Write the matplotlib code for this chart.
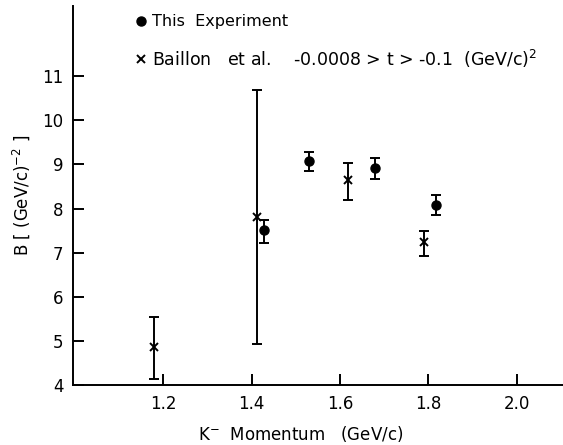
import matplotlib.pyplot as plt

plt.rcParams['font.family'] = 'DejaVu Sans'
plt.rcParams['mathtext.default'] = 'regular'

# this experiment (dots)
exp_p = [1.429, 1.530, 1.680, 1.816]
exp_b = [7.51, 9.08, 8.91, 8.09]
exp_lo = [7.23, 8.85, 8.68, 7.86]
exp_hi = [7.74, 9.29, 9.14, 8.30]

# Baillon et al. (crosses)
bai_p = [1.179, 1.412, 1.619, 1.790]
bai_b = [4.85, 7.82, 8.64, 7.24]
bai_lo = [4.14, 4.92, 8.20, 6.92]
bai_hi = [5.53, 10.69, 9.04, 7.50]

x_ticks = [1.2, 1.4, 1.6, 1.8, 2.0]
x_labels = ["1.2", "1.4", "1.6", "1.8", "2.0"]
y_ticks = [4, 5, 6, 7, 8, 9, 10, 11]

fig = plt.figure(figsize=(5.63, 4.45), dpi=100)
ax = fig.add_axes([0.13, 0.135, 0.87, 0.852])


def errs(val, lo, hi):
    return [[v - l for v, l in zip(val, lo)], [h - v for v, h in zip(val, hi)]]


ax.errorbar(exp_p, exp_b, yerr=errs(exp_b, exp_lo, exp_hi), fmt='o',
            color='black', ms=6.5, elinewidth=1.4, capsize=3.5, capthick=1.4)
ax.errorbar(bai_p, bai_b, yerr=errs(bai_b, bai_lo, bai_hi), fmt='x',
            color='black', ms=6, mew=1.4, elinewidth=1.4, capsize=3.5,
            capthick=1.4)

ax.set_xlim(0.997, 2.104)
ax.set_ylim(4, 12.6)
ax.set_xticks(x_ticks)
ax.set_xticklabels(x_labels)
ax.set_yticks(y_ticks)
ax.tick_params(direction='in', length=8, width=1.4, labelsize=12, pad=7)
ax.spines['top'].set_visible(False)
ax.spines['right'].set_visible(False)
for s in ('left', 'bottom'):
    ax.spines[s].set_linewidth(1.4)

ax.set_xlabel(r"K$^{-}$  Momentum   (GeV/c)", fontsize=12, va='center')
ax.xaxis.set_label_coords(0.465, -0.13)
ax.set_ylabel(r"B $\left[\ (GeV/c)^{-2}\ \right]$", fontsize=12)
ax.yaxis.set_label_coords(-0.085, 0.5)

# hand-drawn legend
ax.plot([1.15], [12.25], 'o', color='black', ms=6.5, clip_on=False)
ax.text(1.175, 12.25, "This  Experiment", fontsize=11.5, va='center')
ax.plot([1.15], [11.39], 'x', color='black', ms=6, mew=1.4, clip_on=False)
ax.text(1.175, 11.39,
        r"Baillon   et al.    -0.0008 > t > -0.1  (GeV/c)$^{2}$",
        fontsize=12.5, va='center')

fig.savefig("out.png", dpi=100)
